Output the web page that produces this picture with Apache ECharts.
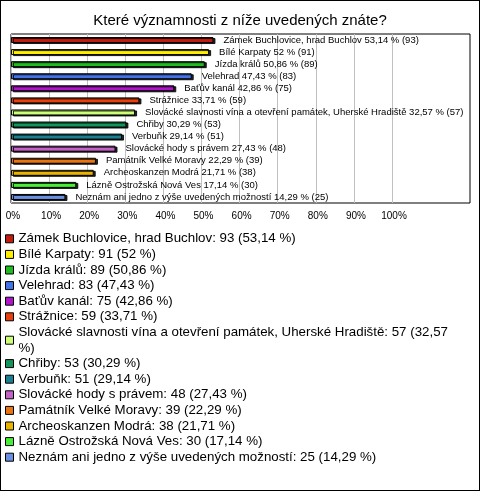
<!DOCTYPE html>
<html><head><meta charset="utf-8">
<script src="https://cdn.jsdelivr.net/npm/echarts@6/dist/echarts.min.js"></script>
<style>
html,body{margin:0;padding:0;background:#fff;}
#wrap{position:relative;width:480px;height:491px;}
#chart{position:absolute;left:0;top:0;width:480px;height:491px;}
#frame{position:absolute;left:0;top:0;width:480px;height:491px;box-sizing:border-box;border:1px solid #000;pointer-events:none;}
</style></head>
<body>
<div id="wrap"><div id="chart"></div><div id="frame"></div></div>
<script>
const title = 'Které významnosti z níže uvedených znáte?';
const categories = [
  'Zámek Buchlovice, hrad Buchlov',
  'Bílé Karpaty',
  'Jízda králů',
  'Velehrad',
  'Baťův kanál',
  'Strážnice',
  'Slovácké slavnosti vína a otevření památek, Uherské Hradiště',
  'Chřiby',
  'Verbuňk',
  'Slovácké hody s právem',
  'Památník Velké Moravy',
  'Archeoskanzen Modrá',
  'Lázně Ostrožská Nová Ves',
  'Neznám ani jedno z výše uvedených možností'
];
const counts = [93, 91, 89, 83, 75, 59, 57, 53, 51, 48, 39, 38, 30, 25];
const percents = [53.14, 52, 50.86, 47.43, 42.86, 33.71, 32.57, 30.29, 29.14, 27.43, 22.29, 21.71, 17.14, 14.29];
const colors = ['#c01c10', '#ffee00', '#1fbb1f', '#4472e8', '#b014c8', '#e8400c', '#ccff77', '#12955a', '#1a7f8e', '#c462c8', '#e87412', '#e8b400', '#46ee34', '#6a8ee0'];
const tickValues = [0, 10, 20, 30, 40, 50, 60, 70, 80, 90, 100];

const FONT = 'Liberation Sans, Arial, sans-serif';
const fmtPct = v => String(v).replace('.', ',');

const series = categories.map((name, i) => ({
  name: name,
  type: 'bar',
  xAxisIndex: 1,
  yAxisIndex: 1,
  stack: 'all',
  barWidth: 6,
  data: categories.map((c, j) => j === i ? percents[i] : '-'),
  itemStyle: {
    color: colors[i],
    borderColor: '#000',
    borderWidth: 1,
    shadowColor: 'rgba(0,0,0,0.85)',
    shadowOffsetX: 2,
    shadowOffsetY: 1,
    shadowBlur: 0
  },
  label: {
    show: true,
    position: 'right',
    distance: 10,
    fontFamily: FONT,
    fontSize: 9.5,
    color: '#000',
    formatter: () => name + ' ' + fmtPct(percents[i]) + ' % (' + counts[i] + ')'
  },
  emphasis: { disabled: true },
  animation: false
}));

const chart = echarts.init(document.getElementById('chart'), null, { renderer: 'canvas' });
chart.setOption({
  backgroundColor: '#fff',
  animation: false,
  title: {
    text: title,
    left: 'center',
    top: 8,
    textStyle: { fontFamily: FONT, fontSize: 15, fontWeight: 'normal', color: '#000' }
  },
  grid: [
    { left: 11, top: 34, width: 459, height: 169, show: true, borderColor: '#000', borderWidth: 1, backgroundColor: '#fff', z: 0 },
    { left: 11, top: 34, width: 381, height: 169, show: false }
  ],
  xAxis: [
    { gridIndex: 0, type: 'value', min: 0, max: 1, show: false },
    {
      gridIndex: 1, type: 'value', min: 0, max: 100, interval: 10,
      axisLine: { show: false }, axisTick: { show: false },
      splitLine: { show: true, lineStyle: { color: '#c0c0c0', width: 1 } },
      axisLabel: {
        fontFamily: FONT, fontSize: 10, color: '#000', margin: 8, padding: [0, 0, 0, 4],
        formatter: v => tickValues.includes(v) ? v + '%' : ''
      }
    }
  ],
  yAxis: [
    { gridIndex: 0, type: 'value', min: 0, max: 1, show: false },
    {
      gridIndex: 1, type: 'category', inverse: true, data: categories,
      axisLine: { show: false }, axisTick: { show: false }, axisLabel: { show: false },
      splitLine: { show: false }
    }
  ],
  legend: {
    orient: 'vertical',
    left: 5,
    top: 231,
    padding: 0,
    itemGap: 0,
    itemWidth: 8,
    itemHeight: 8,
    icon: 'rect',
    selectedMode: false,
    itemStyle: { borderColor: '#000', borderWidth: 1, shadowBlur: 0, shadowColor: 'transparent', shadowOffsetX: 0, shadowOffsetY: 0 },
    textStyle: {
      fontFamily: FONT, fontSize: 13.3, color: '#000',
      lineHeight: 15.6, width: 500, overflow: 'break'
    },
    formatter: name => {
      const i = categories.indexOf(name);
      return name + ': ' + counts[i] + ' (' + fmtPct(percents[i]) + ' %)';
    },
    data: categories
  },
  series: series
});
</script>
</body></html>
